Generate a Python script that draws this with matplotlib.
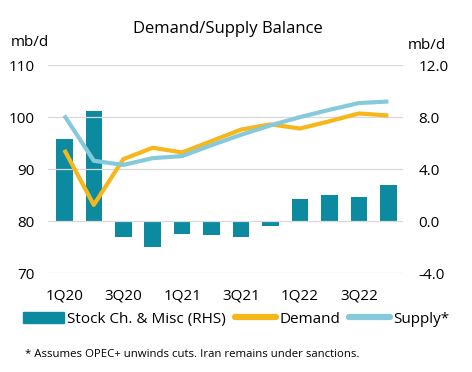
import matplotlib
matplotlib.use('Agg')
import matplotlib.pyplot as plt
from matplotlib.patches import Patch
from matplotlib.lines import Line2D

quarters = ['1Q20', '2Q20', '3Q20', '4Q20', '1Q21', '2Q21', '3Q21', '4Q21',
            '1Q22', '2Q22', '3Q22', '4Q22']
stock_change = [6.3, 8.5, -1.2, -2.0, -1.0, -1.1, -1.25, -0.4, 1.7, 2.0, 1.85, 2.8]
demand = [93.7, 83.1, 91.9, 94.1, 93.2, 95.4, 97.6, 98.6, 97.8, 99.2, 100.7, 100.3]
supply = [100.3, 91.6, 90.8, 92.1, 92.5, 94.6, 96.6, 98.4, 100.0, 101.4, 102.7, 103.0]

left_ticks = [70, 80, 90, 100, 110]
right_ticks = [-4.0, 0.0, 4.0, 8.0, 12.0]

bar_color = '#0b8aa0'
demand_color = '#f5b71a'
supply_color = '#86c9da'
grid_color = '#d9d9d9'

plt.rcParams['font.family'] = 'Open Sans'
plt.rcParams['font.size'] = 11

fig = plt.figure(figsize=(4.72, 3.72), dpi=100)
ax = fig.add_axes([0.102, 0.266, 0.752, 0.559])
ax2 = ax.twinx()
ax.set_zorder(ax2.get_zorder() + 1)
ax.patch.set_visible(False)

x = range(len(quarters))
ax2.bar(x, stock_change, width=0.56, color=bar_color)
ax.plot(x, demand, color=demand_color, lw=3.0, solid_capstyle='butt')
ax.plot(x, supply, color=supply_color, lw=3.0, solid_capstyle='butt')

ax.set_ylim(70, 110)
ax2.set_ylim(-4, 12)
ax.set_xlim(-0.55, 11.5)
ax.set_yticks(left_ticks)
ax.set_yticklabels([str(t) for t in left_ticks])
ax2.set_yticks(right_ticks)
ax2.set_yticklabels(['%.1f' % t for t in right_ticks])
ax.set_xticks(range(0, 12, 2))
ax.set_xticklabels(quarters[::2])

for a in (ax, ax2):
    for s in a.spines.values():
        s.set_visible(False)
    a.tick_params(length=0, labelsize=11)
ax.tick_params(axis='y', pad=9.5)
ax2.tick_params(axis='y', pad=11)
ax.tick_params(axis='x', pad=11)

for t in left_ticks:
    ax.axhline(t, color=grid_color, lw=0.9, zorder=0)

fig.text(0.483, 0.922, 'Demand/Supply Balance', ha='center', va='center', fontsize=12)
fig.text(0.063, 0.885, 'mb/d', ha='center', va='center', fontsize=11)
fig.text(0.905, 0.879, 'mb/d', ha='center', va='center', fontsize=11)

handles = [Patch(color=bar_color),
           Line2D([], [], color=demand_color, lw=4.5, solid_capstyle='round'),
           Line2D([], [], color=supply_color, lw=4.5, solid_capstyle='round')]
fig.legend(handles, ['Stock Ch. & Misc (RHS)', 'Demand', 'Supply*'],
           loc='center', bbox_to_anchor=(0.5, 0.142), ncol=3, frameon=False,
           handlelength=2.7, handletextpad=0.2, columnspacing=0.6, fontsize=11)

fig.text(0.053, 0.048, '* Assumes OPEC+ unwinds cuts. Iran remains under sanctions.',
         ha='left', va='center', fontsize=8.2)

fig.savefig('out.png', dpi=100)
